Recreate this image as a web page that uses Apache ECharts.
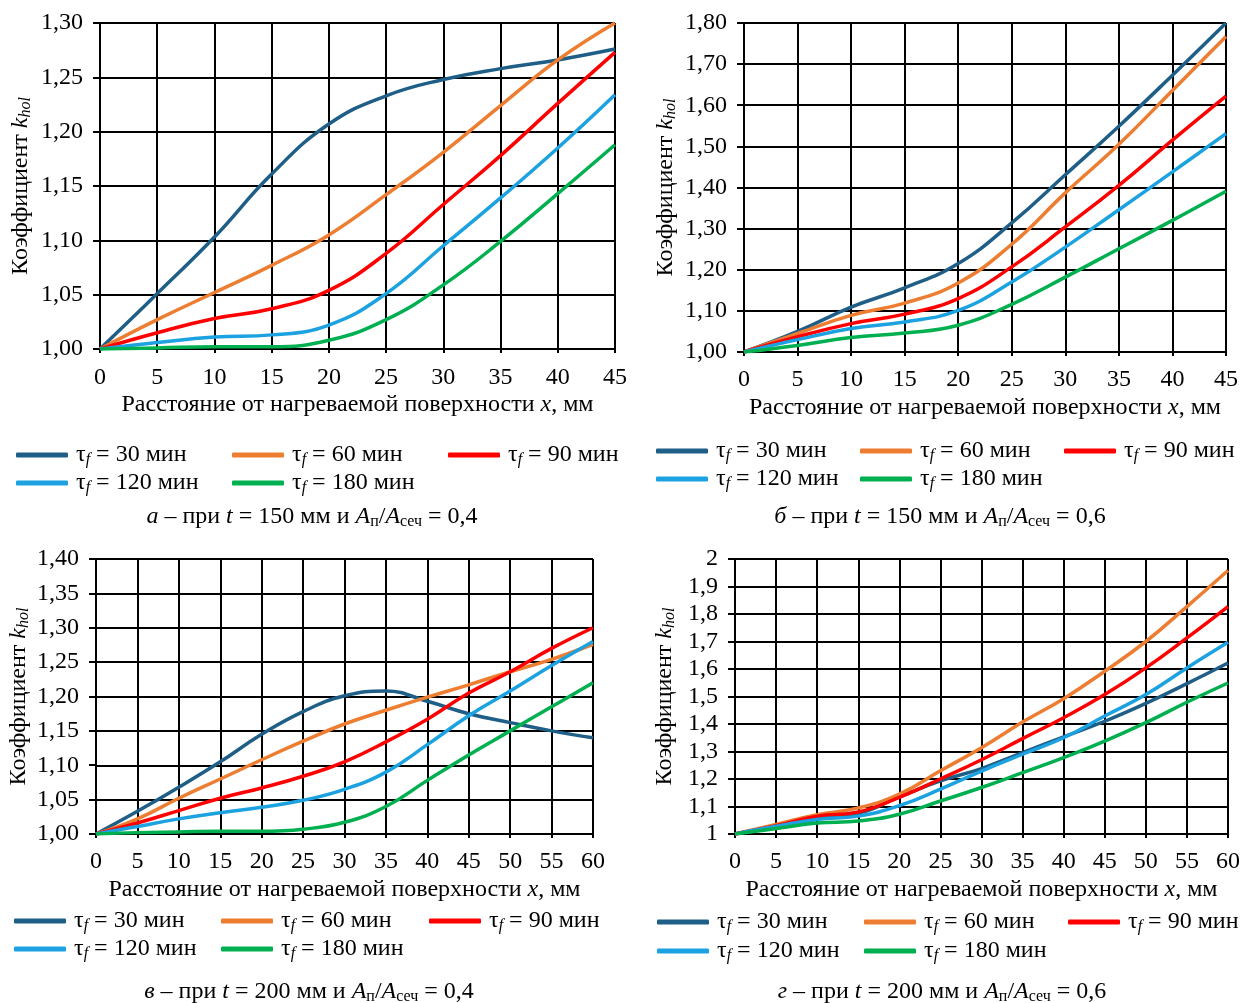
<!DOCTYPE html>
<html>
<head>
<meta charset="utf-8">
<script src="https://cdn.jsdelivr.net/npm/echarts@6/dist/echarts.min.js"></script>
<style>
html, body { margin: 0; padding: 0; background: #fff; }
#chart { width: 1243px; height: 1003px; }
</style>
</head>
<body>
<div id="chart"></div>
<script>
// distance from heated surface, mm
var x45 = [0, 5, 10, 15, 20, 25, 30, 35, 40, 45];
var x60 = [0, 5, 10, 15, 20, 25, 30, 35, 40, 45, 50, 55, 60];

var tauNames = ['τf = 30 мин', 'τf = 60 мин', 'τf = 90 мин', 'τf = 120 мин', 'τf = 180 мин'];
var tauColors = ['#1f5f87', '#ed7d31', '#ff0000', '#1ca2e0', '#00b050'];

// а – t = 150 мм, Aп/Aсеч = 0,4
var a30 = [1.000, 1.051, 1.103, 1.161, 1.207, 1.233, 1.248, 1.258, 1.266, 1.276];
var a60 = [1.000, 1.027, 1.052, 1.077, 1.105, 1.142, 1.181, 1.224, 1.266, 1.300];
var a90 = [1.000, 1.015, 1.028, 1.037, 1.054, 1.088, 1.133, 1.178, 1.226, 1.273];
var a120 = [1.000, 1.006, 1.011, 1.013, 1.022, 1.051, 1.095, 1.139, 1.185, 1.234];
var a180 = [1.000, 1.001, 1.002, 1.002, 1.008, 1.027, 1.059, 1.099, 1.143, 1.188];

// б – t = 150 мм, Aп/Aсеч = 0,6
var b30 = [1.000, 1.050, 1.109, 1.156, 1.215, 1.314, 1.431, 1.549, 1.673, 1.800];
var b60 = [1.000, 1.045, 1.089, 1.119, 1.168, 1.262, 1.387, 1.505, 1.636, 1.767];
var b90 = [1.000, 1.037, 1.069, 1.092, 1.130, 1.207, 1.304, 1.405, 1.515, 1.622];
var b120 = [1.000, 1.030, 1.057, 1.073, 1.101, 1.170, 1.255, 1.346, 1.438, 1.531];
var b180 = [1.000, 1.016, 1.035, 1.046, 1.065, 1.116, 1.182, 1.251, 1.320, 1.391];

// в – t = 200 мм, Aп/Aсеч = 0,4
var c30 = [1.000, 1.033, 1.068, 1.105, 1.145, 1.178, 1.201, 1.208, 1.193, 1.175, 1.162, 1.150, 1.140];
var c60 = [1.000, 1.022, 1.052, 1.080, 1.108, 1.135, 1.160, 1.180, 1.199, 1.217, 1.236, 1.254, 1.276];
var c90 = [1.000, 1.016, 1.034, 1.052, 1.067, 1.084, 1.105, 1.134, 1.167, 1.205, 1.236, 1.270, 1.300];
var c120 = [1.000, 1.011, 1.022, 1.031, 1.039, 1.049, 1.065, 1.090, 1.130, 1.172, 1.208, 1.245, 1.280];
var c180 = [1.000, 1.002, 1.003, 1.004, 1.004, 1.007, 1.017, 1.040, 1.078, 1.115, 1.150, 1.185, 1.220];

// г – t = 200 мм, Aп/Aсеч = 0,6
var d30 = [1.000, 1.030, 1.060, 1.075, 1.135, 1.193, 1.238, 1.296, 1.353, 1.410, 1.475, 1.547, 1.622];
var d60 = [1.000, 1.035, 1.070, 1.095, 1.145, 1.230, 1.314, 1.407, 1.492, 1.592, 1.700, 1.827, 1.958];
var d90 = [1.000, 1.030, 1.065, 1.080, 1.133, 1.200, 1.270, 1.347, 1.423, 1.507, 1.604, 1.713, 1.827];
var d120 = [1.000, 1.028, 1.053, 1.065, 1.103, 1.163, 1.229, 1.290, 1.350, 1.429, 1.507, 1.604, 1.697];
var d180 = [1.000, 1.020, 1.040, 1.047, 1.072, 1.120, 1.169, 1.223, 1.278, 1.338, 1.405, 1.479, 1.549];

var captions = [
  '{i|а}{n| – при }{i|t}{n| = 150 мм и }{i|A}{s|п}{n|/}{i|A}{s|сеч}{n| = 0,4}',
  '{i|б}{n| – при }{i|t}{n| = 150 мм и }{i|A}{s|п}{n|/}{i|A}{s|сеч}{n| = 0,6}',
  '{i|в}{n| – при }{i|t}{n| = 200 мм и }{i|A}{s|п}{n|/}{i|A}{s|сеч}{n| = 0,4}',
  '{i|г}{n| – при }{i|t}{n| = 200 мм и }{i|A}{s|п}{n|/}{i|A}{s|сеч}{n| = 0,6}'
];

var FONT = 'Liberation Serif';
var FS = 24;

var rich = {
  n: { fontFamily: FONT, fontSize: FS, fontWeight: 'normal', color: '#000', lineHeight: 26 },
  i: { fontFamily: FONT, fontSize: FS, fontWeight: 'normal', fontStyle: 'italic', color: '#000', lineHeight: 26 },
  s: { fontFamily: FONT, fontSize: 16, fontWeight: 'normal', color: '#000', lineHeight: 16, verticalAlign: 'bottom' },
  si: { fontFamily: FONT, fontSize: 16, fontWeight: 'normal', fontStyle: 'italic', color: '#000', lineHeight: 16, verticalAlign: 'bottom' }
};

// layout of the four panels
var panels = [
  { xs: x45, xmax: 45, ymin: 1, ymax: 1.3, step: 0.05, dec: 2, data: [a30, a60, a90, a120, a180],
    grid: { left: 100, top: 23, width: 515, height: 326 }, yGap: 66, xLab: 16,
    legX: [16, 232, 448], legY: [456, 484], cap: [312, 517] },
  { xs: x45, xmax: 45, ymin: 1, ymax: 1.8, step: 0.1, dec: 2, data: [b30, b60, b90, b120, b180],
    grid: { left: 744, top: 23, width: 482, height: 329 }, yGap: 65, xLab: 15,
    legX: [656, 860, 1064], legY: [452, 480], cap: [940, 517] },
  { xs: x60, xmax: 60, ymin: 1, ymax: 1.4, step: 0.05, dec: 2, data: [c30, c60, c90, c120, c180],
    grid: { left: 96, top: 559, width: 497, height: 275 }, yGap: 64, xLab: 15,
    legX: [14, 221, 429], legY: [922, 950], cap: [309, 992] },
  { xs: x60, xmax: 60, ymin: 1, ymax: 2, step: 0.1, dec: -1, data: [d30, d60, d90, d120, d180],
    grid: { left: 735, top: 559, width: 496, height: 275 }, yGap: 57, xLab: 15,
    legX: [657, 864, 1068], legY: [923, 952], cap: [942, 992] }
];

var grids = [], xAxes = [], yAxes = [], series = [], legends = [], titles = [];

panels.forEach(function(p, k) {
  grids.push(p.grid);
  xAxes.push({
    type: 'value', gridIndex: k, min: 0, max: p.xmax, interval: 5,
    name: '{n|Расстояние от нагреваемой поверхности }{i|x}{n|, мм}',
    nameLocation: 'middle', nameGap: 43,
    nameTextStyle: { fontFamily: FONT, fontSize: FS, rich: rich },
    axisLine: { lineStyle: { color: '#000', width: 2 } },
    axisTick: { show: true, length: 4, lineStyle: { color: '#000', width: 2 } },
    axisLabel: {
      margin: p.xLab, rich: rich,
      formatter: function(v) { return '{n|' + v + '}'; }
    },
    splitLine: { show: true, lineStyle: { color: '#000', width: 2 } }
  });
  yAxes.push({
    type: 'value', gridIndex: k, min: p.ymin, max: p.ymax, interval: p.step,
    name: '{n|Коэффициент }{i|k}{si|hol}',
    nameLocation: 'middle', nameGap: p.yGap,
    nameTextStyle: { fontFamily: FONT, fontSize: FS, rich: rich },
    axisLine: { show: true, lineStyle: { color: '#000', width: 2 } },
    axisTick: { show: true, length: 7, lineStyle: { color: '#000', width: 2 } },
    axisLabel: {
      margin: 17, rich: rich,
      formatter: function(v) {
        var s = p.dec > 0 ? v.toFixed(p.dec) : String(+v.toFixed(1));
        return '{n|' + s.replace('.', ',') + '}';
      }
    },
    splitLine: { show: true, lineStyle: { color: '#000', width: 2 } }
  });
  p.data.forEach(function(vals, j) {
    series.push({
      name: tauNames[j], type: 'line', xAxisIndex: k, yAxisIndex: k,
      data: p.xs.map(function(x, m) { return [x, vals[m]]; }),
      smooth: 0.45, showSymbol: false, symbol: 'none',
      lineStyle: { color: tauColors[j], width: 3.5 },
      itemStyle: { color: tauColors[j] },
      z: 5
    });
  });
  // two legend rows: 3 items, then 2 items
  tauNames.forEach(function(name, j) {
    var row = j < 3 ? 0 : 1;
    var col = j < 3 ? j : j - 3;
    legends.push({
      data: [name], left: p.legX[col], top: p.legY[row] - 13, padding: 0,
      icon: 'roundRect', itemWidth: 52, itemHeight: 5, itemGap: 0,
      selectedMode: false,
      formatter: function(nm) { return '{n|τ}{si|f}{n|' + nm.slice(2) + '}'; },
      textStyle: { fontFamily: FONT, fontSize: FS, rich: rich, padding: [0, 0, 0, 3] }
    });
  });
  titles.push({
    text: captions[k], left: p.cap[0], top: p.cap[1] - 13, textAlign: 'center', padding: 0,
    textStyle: { fontFamily: FONT, fontSize: FS, fontWeight: 'normal', rich: rich }
  });
});

var chart = echarts.init(document.getElementById('chart'));
chart.setOption({
  backgroundColor: '#fff',
  animation: false,
  textStyle: { fontFamily: FONT, fontSize: FS, color: '#000' },
  title: titles,
  grid: grids,
  xAxis: xAxes,
  yAxis: yAxes,
  legend: legends,
  series: series
});
</script>
</body>
</html>
